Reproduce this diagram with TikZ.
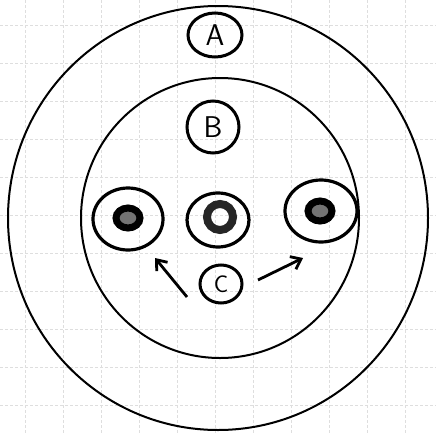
\documentclass[tikz,border=0pt]{standalone}
\usetikzlibrary{arrows.meta,shapes.geometric}
\begin{document}
\begin{tikzpicture}[x=1pt,y=-1pt,
  ring/.style={draw=black,line width=2pt},
  cell/.style={draw=black,line width=3.2pt,ellipse},
  tag/.style={draw=black,line width=3pt,ellipse,inner sep=0pt,font=\sffamily\fontsize{30}{30}\selectfont},
  gridline/.style={draw=black!13,line width=0.6pt,dash pattern=on 3pt off 2pt},
  pointer/.style={line width=2.8pt,-{Straight Barb[length=9pt,width=14pt,line width=2.8pt]}}]
\useasboundingbox (0,0) rectangle (436,434);
\fill[white] (0,0) rectangle (436,434);
% paper grid
\foreach \g in {25,63,101,139,177,215,253,291,329,367,405}{
  \draw[gridline] (\g,0) -- (\g,434);
  \draw[gridline] (0,\g) -- (436,\g);
}
% outer and inner zones
\draw[ring] (218,218) ellipse [x radius=210, y radius=212];
\draw[ring] (220,218) ellipse [x radius=139, y radius=140];
% labels
\node[tag,minimum width=54pt,minimum height=44pt] (a) at (215,35) {A};
\node[tag,minimum width=52pt,minimum height=52pt] (b) at (213,127) {B};
\node[tag,minimum width=42pt,minimum height=38pt,font=\sffamily\fontsize{24}{24}\selectfont] (c) at (221,284) {C};
% cells
\node[cell,minimum width=70pt,minimum height=62pt] (left) at (128,219) {};
\node[cell,minimum width=62pt,minimum height=54pt] (mid) at (218,220) {};
\node[cell,minimum width=72pt,minimum height=62pt] (right) at (321,211) {};
% nuclei
\draw[line width=7pt,fill=black!55] (128,218) ellipse [x radius=12, y radius=10];
\draw[line width=8pt,draw=black!85] (220,217) circle [radius=13];
\draw[line width=7pt,fill=black!55] (320,211) ellipse [x radius=12, y radius=10];
% arrows
\coordinate (lt) at (155,258);
\coordinate (ls) at (187,297);
\coordinate (rt) at (303,258);
\coordinate (rs) at (258,280);
\draw[pointer] (ls) -- (lt);
\draw[pointer] (rs) -- (rt);
\end{tikzpicture}
\end{document}
